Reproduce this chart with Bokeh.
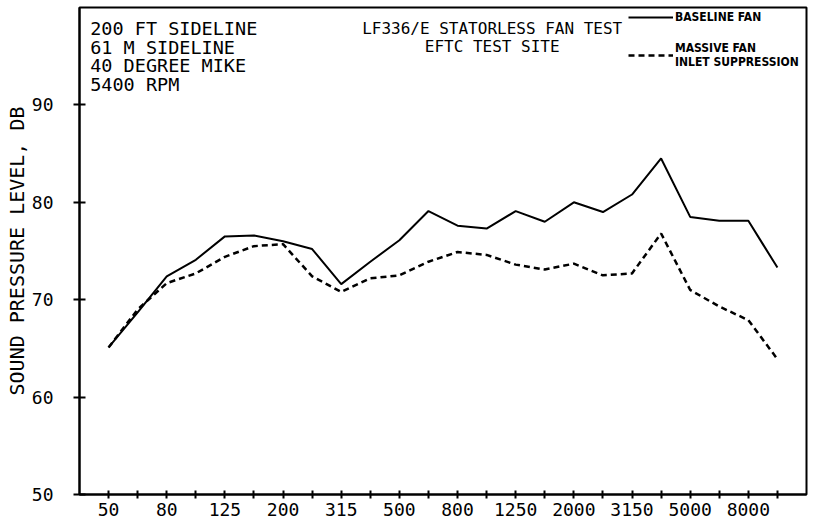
from bokeh.plotting import figure
from bokeh.models import Range1d, FixedTicker, Label, Legend, LegendItem
from bokeh.embed import file_html
from bokeh.resources import INLINE

# 1/3-octave band centre frequencies (Hz)
freqs = ["50", "63", "80", "100", "125", "160", "200", "250", "315", "400",
         "500", "630", "800", "1000", "1250", "1600", "2000", "2500", "3150",
         "4000", "5000", "6300", "8000", "10000"]
# Sound pressure level, dB
baseline_fan = [65.1, 68.7, 72.4, 74.1, 76.5, 76.6, 76.0, 75.2, 71.6, 73.9,
                76.1, 79.1, 77.6, 77.3, 79.1, 78.0, 80.0, 79.0, 80.8, 84.5,
                78.5, 78.1, 78.1, 73.3]
massive_inlet = [65.1, 69.0, 71.7, 72.7, 74.4, 75.5, 75.7, 72.4, 70.8, 72.2,
                 72.5, 73.9, 74.9, 74.6, 73.6, 73.1, 73.7, 72.5, 72.7, 76.8,
                 71.0, 69.3, 67.9, 63.9]
y_ticks = [50, 60, 70, 80, 90]
label_freqs = ["50", "80", "125", "200", "315", "500", "800", "1250", "2000",
               "3150", "5000", "8000"]

MONO = "DejaVu Sans Mono"

xs = list(range(1, len(freqs) + 1))

p = figure(width=826, height=530, output_backend="svg", toolbar_location=None,
           x_range=Range1d(0, len(freqs) + 1), y_range=Range1d(50, 100),
           min_border_left=79, min_border_right=20, min_border_top=7,
           min_border_bottom=36)
p.background_fill_color = "white"
p.border_fill_color = "white"
p.outline_line_color = "black"
p.outline_line_width = 2
p.xgrid.visible = False
p.ygrid.visible = False

# axes
p.xaxis.ticker = FixedTicker(ticks=xs)
p.xaxis.major_label_overrides = {x: (f if f in label_freqs else "") for x, f in zip(xs, freqs)}
p.xaxis.minor_tick_line_color = None
p.xaxis.major_tick_in = 4
p.xaxis.major_tick_out = 4
p.xaxis.major_label_standoff = 4
p.xaxis.major_label_text_font = MONO
p.xaxis.major_label_text_font_size = "18px"
p.xaxis.major_label_text_color = "black"
p.xaxis.axis_line_width = 2
p.xaxis.major_tick_line_width = 2

p.yaxis.ticker = FixedTicker(ticks=y_ticks)
p.yaxis.minor_tick_line_color = None
p.yaxis.major_tick_in = 6
p.yaxis.major_tick_out = 6
p.yaxis.major_label_standoff = 20
p.yaxis.major_label_text_font = MONO
p.yaxis.major_label_text_font_size = "18px"
p.yaxis.major_label_text_color = "black"
p.yaxis.axis_line_width = 2
p.yaxis.major_tick_line_width = 2
p.yaxis.axis_label = "SOUND PRESSURE LEVEL, DB"
p.yaxis.axis_label_standoff = 0
p.yaxis.axis_label_text_font = MONO
p.yaxis.axis_label_text_font_size = "20px"
p.yaxis.axis_label_text_font_style = "normal"
p.yaxis.axis_label_text_color = "black"

# data
r1 = p.line(xs, baseline_fan, line_color="black", line_width=2)
r2 = p.line(xs, massive_inlet, line_color="black", line_width=2.5, line_dash="6 4")

legend = Legend(items=[LegendItem(label="BASELINE FAN", renderers=[r1]),
                       LegendItem(label="MASSIVE FAN\nINLET SUPPRESSION", renderers=[r2])],
                location=(549, 425), glyph_width=45, glyph_height=20,
                label_height=20, spacing=14, padding=0, margin=0,
                label_standoff=2, border_line_alpha=0,
                background_fill_alpha=0, label_text_font="DejaVu Sans Condensed",
                label_text_font_size="12px", label_text_font_style="bold",
                label_text_color="black", label_text_line_height=0.95)
p.add_layout(legend)

def px_to_x(px):
    return (px - 79.3) / 29.08

def py_to_y(py):
    return 50 + (494 - py) / 9.74

info = ["200 FT SIDELINE", "61 M SIDELINE", "40 DEGREE MIKE", "5400 RPM"]
for i, t in enumerate(info):
    p.add_layout(Label(x=px_to_x(90), y=py_to_y(28 + 18.5 * i), text=t,
                       text_font=MONO, text_font_size="18.5px",
                       text_color="black", text_baseline="alphabetic"))

title_lines = ["LF336/E STATORLESS FAN TEST", "EFTC TEST SITE"]
for i, t in enumerate(title_lines):
    p.add_layout(Label(x=px_to_x(492), y=py_to_y(28 + 18 * i), text=t,
                       text_font=MONO, text_font_size="16px",
                       text_color="black", text_align="center",
                       text_baseline="alphabetic"))

open("out.html", "w").write(file_html(p, INLINE))
